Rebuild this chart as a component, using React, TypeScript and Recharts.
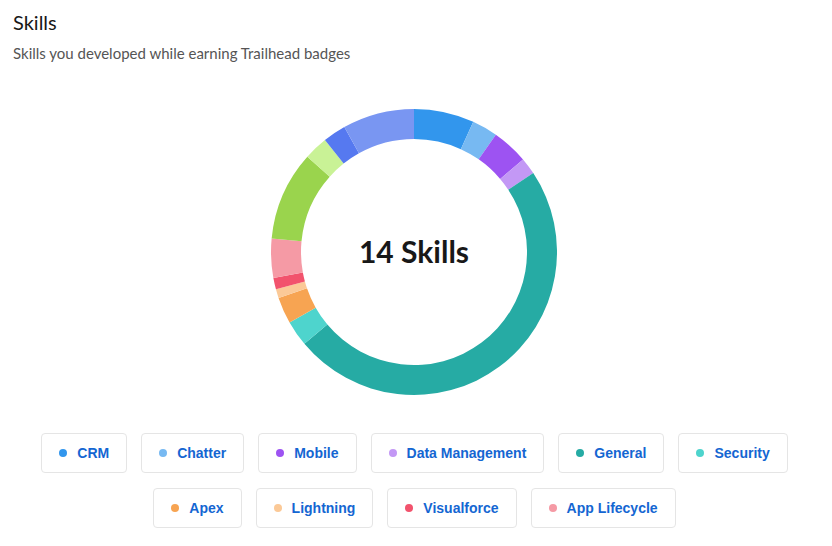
import { Cell, Pie, PieChart } from 'recharts'

const skillNames = [
  'CRM',
  'Chatter',
  'Mobile',
  'Data Management',
  'General',
  'Security',
  'Apex',
  'Lightning',
  'Visualforce',
  'App Lifecycle',
  'Analytics',
  'Service',
  'Community',
  'Integration',
]
const skillShares = [6.8, 2.9, 4.1, 1.9, 48.2, 2.9, 3.0, 1.0, 1.3, 4.4, 10.1, 2.7, 2.6, 8.1]
const skillColors = [
  '#3296ed',
  '#77b9f2',
  '#9d53f2',
  '#c398f5',
  '#26aba4',
  '#4ed4cd',
  '#f7a452',
  '#fbc997',
  '#f2536d',
  '#f59aa5',
  '#9ad44d',
  '#c9f296',
  '#5679f0',
  '#7996f2',
]
// only the first ten skills get a chip under the chart
const legendNames = skillNames.slice(0, 10)
const centerText = '14 Skills'

const data = skillNames.map((name, i) => ({ name, value: skillShares[i] }))

export default function App() {
  return (
    <div style={{ position: 'relative', width: 816, height: 530, background: '#fff' }}>
      <div
        style={{
          position: 'absolute',
          left: 5,
          top: 2,
          fontFamily: 'Lato, sans-serif',
          fontSize: 20,
          lineHeight: '24px',
          color: '#181818',
        }}
      >
        Skills
      </div>
      <div
        style={{
          position: 'absolute',
          left: 5,
          top: 35,
          fontFamily: 'Lato, sans-serif',
          fontSize: 15,
          lineHeight: '20px',
          color: '#555555',
        }}
      >
        Skills you developed while earning Trailhead badges
      </div>

      <div style={{ position: 'absolute', left: 0, top: 0 }}>
        {/* chart margin is 5, so cx/cy are offset by it */}
        <PieChart width={816} height={420}>
          <Pie
            data={data}
            dataKey='value'
            nameKey='name'
            cx={401}
            cy={239}
            innerRadius={113}
            outerRadius={143}
            startAngle={90}
            endAngle={-270}
            stroke='none'
            isAnimationActive={false}
          >
            {data.map((d, i) => (
              <Cell key={d.name} fill={skillColors[i]} />
            ))}
          </Pie>
        </PieChart>
      </div>

      <div
        style={{
          position: 'absolute',
          left: 306,
          top: 225,
          width: 200,
          textAlign: 'center',
          fontFamily: 'Lato, sans-serif',
          fontWeight: 700,
          fontSize: 30,
          lineHeight: '36px',
          color: '#181818',
        }}
      >
        {centerText}
      </div>

      <div
        style={{
          position: 'absolute',
          left: 0,
          top: 425,
          width: 813,
          display: 'flex',
          flexWrap: 'wrap',
          justifyContent: 'center',
          columnGap: 14,
          rowGap: 15,
        }}
      >
        {legendNames.map((name, i) => (
          <div
            key={name}
            style={{
              display: 'flex',
              alignItems: 'center',
              height: 40,
              boxSizing: 'border-box',
              padding: '0 17px',
              border: '1px solid #e5e5e5',
              borderRadius: 4,
              fontFamily: '"Liberation Sans", Arial, sans-serif',
              fontWeight: 700,
              fontSize: 14,
              color: '#1466d2',
            }}
          >
            <span
              style={{
                width: 8,
                height: 8,
                borderRadius: '50%',
                background: skillColors[i],
                marginRight: 10,
              }}
            />
            {name}
          </div>
        ))}
      </div>
    </div>
  )
}
